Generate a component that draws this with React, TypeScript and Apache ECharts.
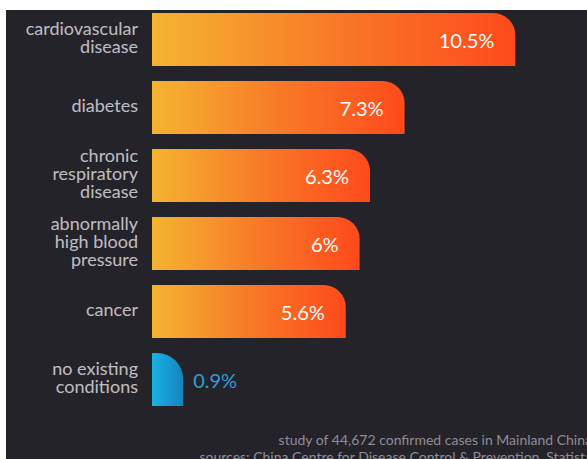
import React, { useEffect, useRef } from "react";
import * as echarts from "echarts";

const categories = [
  "cardiovascular\ndisease",
  "diabetes",
  "chronic\nrespiratory\ndisease",
  "abnormally\nhigh blood\npressure",
  "cancer",
  "no existing\nconditions",
];
const values = [10.5, 7.3, 6.3, 6, 5.6, 0.9];
const labelBase = values.map(() => 0);
const footerLines = [
  "study of 44,672 confirmed cases in Mainland China",
  "sources: China Centre for Disease Control & Prevention, Statista",
];

const FONT = "Lato, 'Noto Sans', sans-serif";

export default function App() {
  const ref = useRef<HTMLDivElement>(null);
  useEffect(() => {
    if (!ref.current) return;
    const chart = echarts.init(ref.current, undefined, { renderer: "svg" });
    const orange = new echarts.graphic.LinearGradient(0, 0, 1, 0, [
      { offset: 0, color: "#f5b431" },
      { offset: 0.5, color: "#f87a27" },
      { offset: 1, color: "#fe4a1c" },
    ]);
    const blue = new echarts.graphic.LinearGradient(0, 0, 1, 0, [
      { offset: 0, color: "#19b3e2" },
      { offset: 1, color: "#1583be" },
    ]);
    const data = values.map((v, i) => {
      const last = i === values.length - 1;
      return {
        value: v,
        itemStyle: {
          color: last ? blue : orange,
          borderRadius: last ? [0, 26, 0, 0] : [0, 22, 0, 0],
        },
        label: last
          ? { position: "right", distance: 10, color: "#2b9fd9" }
          : { position: "insideRight", distance: 21, color: "#ffffff" },
      };
    });
    chart.setOption({
      animation: false,
      backgroundColor: "transparent",
      graphic: [
        {
          type: "rect",
          z: -10,
          silent: true,
          shape: { x: 6, y: 10, width: 600, height: 460 },
          style: { fill: "#25232a" },
        },
        {
          type: "text",
          x: 592,
          y: 439,
          style: {
            text: footerLines[0],
            fill: "#8f8d95",
            font: `14px ${FONT}`,
            textAlign: "right",
            textVerticalAlign: "middle",
          },
        },
        {
          type: "text",
          x: 592,
          y: 456,
          style: {
            text: footerLines[1],
            fill: "#8f8d95",
            font: `14px ${FONT}`,
            textAlign: "right",
            textVerticalAlign: "middle",
          },
        },
      ],
      grid: { left: 152, top: 5.5, width: 415.2, height: 408 },
      xAxis: {
        type: "value",
        min: 0,
        max: 12,
        show: false,
      },
      yAxis: {
        type: "category",
        data: categories,
        inverse: true,
        axisLine: { show: false },
        axisTick: { show: false },
        axisLabel: { show: false },
      },
      series: [
        {
          type: "bar",
          data,
          barWidth: 53,
          label: {
            show: true,
            formatter: "{c}%",
            fontSize: 20,
            fontFamily: FONT,
          },
        },
        {
          type: "scatter",
          data: labelBase,
          symbolSize: 0,
          silent: true,
          label: {
            show: true,
            position: "left",
            distance: 14,
            offset: [0, -3],
            formatter: (p: any) => categories[p.dataIndex],
            color: "#e8e8ea",
            fontSize: 18,
            lineHeight: 18,
            fontFamily: FONT,
            align: "right",
          },
        },
      ],
    });
    return () => chart.dispose();
  }, []);
  return (
    <div
      ref={ref}
      style={{ position: "absolute", left: 0, top: 0, width: 587, height: 459 }}
    />
  );
}
